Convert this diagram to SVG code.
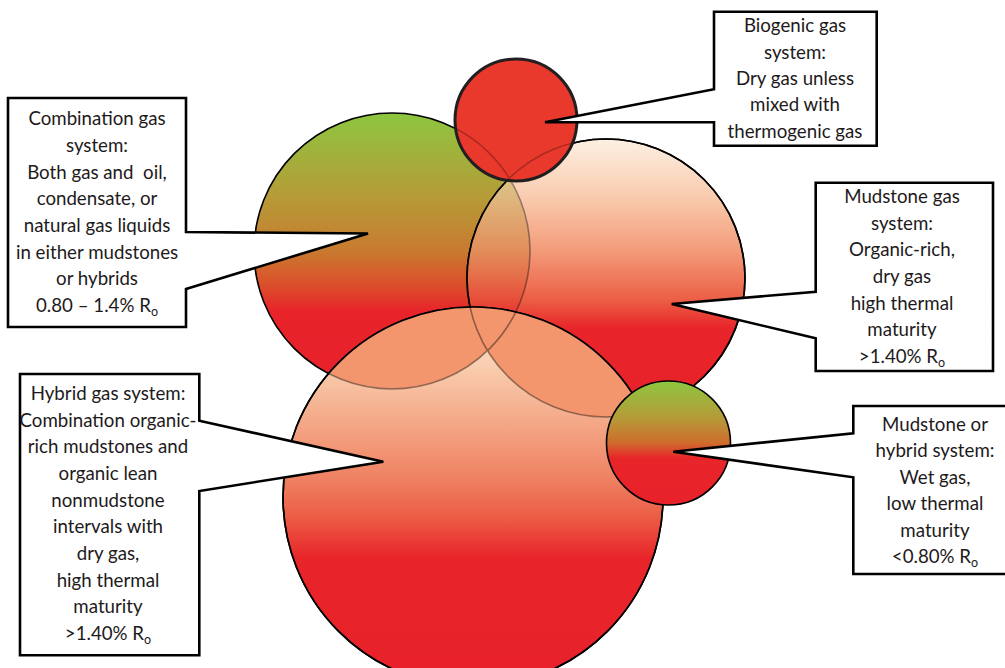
<svg xmlns="http://www.w3.org/2000/svg" xmlns:xlink="http://www.w3.org/1999/xlink" width="1005" height="668" viewBox="0 0 1005 668">
<style>
.lbl{font-family:Lato,"Open Sans","Liberation Sans",sans-serif;font-size:18.7px;fill:#1E1A1B;text-anchor:middle}
.sub{font-size:12.5px}
.box{fill:#fff;stroke:#000;stroke-width:2.6;stroke-linejoin:miter}
.ring{stroke:#000;stroke-width:1.6}
.ghost{fill:none;stroke:#000;stroke-width:1.6}
</style>
<defs>
<linearGradient id="gGreen" x1="0" y1="0" x2="0" y2="1">
<stop offset="0" stop-color="#8DC63F"/>
<stop offset="0.3" stop-color="#B59C38"/>
<stop offset="0.5" stop-color="#C97A2F"/>
<stop offset="0.63" stop-color="#DC4C2B"/>
<stop offset="0.72" stop-color="#E8232A"/>
<stop offset="1" stop-color="#E8212A"/>
</linearGradient>
<linearGradient id="gPeach" x1="0" y1="0" x2="0" y2="1">
<stop offset="0" stop-color="#FDF0E3"/>
<stop offset="0.2" stop-color="#F9CDB0"/>
<stop offset="0.4" stop-color="#F39C7A"/>
<stop offset="0.58" stop-color="#EC5E45"/>
<stop offset="0.68" stop-color="#E8252A"/>
<stop offset="1" stop-color="#E8212A"/>
</linearGradient>
<linearGradient id="gHybrid" x1="0" y1="0" x2="0" y2="1">
<stop offset="0" stop-color="#FCE6D2"/>
<stop offset="0.15" stop-color="#F9CFB1"/>
<stop offset="0.3" stop-color="#F4A988"/>
<stop offset="0.45" stop-color="#EF8263"/>
<stop offset="0.55" stop-color="#EC5E46"/>
<stop offset="0.66" stop-color="#E8252A"/>
<stop offset="1" stop-color="#E8212A"/>
</linearGradient>
<linearGradient id="gSmall" x1="0" y1="0" x2="0" y2="1">
<stop offset="0" stop-color="#8DC63F"/>
<stop offset="0.3" stop-color="#B69A38"/>
<stop offset="0.5" stop-color="#CF6C2D"/>
<stop offset="0.62" stop-color="#E8262A"/>
<stop offset="1" stop-color="#E8212A"/>
</linearGradient>
<circle id="c1" cx="392" cy="251" r="138"/>
<circle id="c2" cx="606" cy="278" r="139"/>
<circle id="c3" cx="473" cy="497" r="190"/>
<circle id="c4" cx="516" cy="120" r="61"/>
<circle id="c5" cx="668.5" cy="443" r="62"/>
<clipPath id="k2"><circle cx="606" cy="278" r="139"/></clipPath>
<clipPath id="k3"><circle cx="473" cy="497" r="190"/></clipPath>
<clipPath id="k4"><circle cx="516" cy="120" r="61"/></clipPath>
</defs>

<g id="circles">
<g id="circle-combination">
<use xlink:href="#c1" href="#c1" class="ring" fill="url(#gGreen)"/>
</g>
<g id="circle-mudstone">
<use xlink:href="#c2" href="#c2" class="ring" fill="url(#gPeach)"/>
<g clip-path="url(#k2)" opacity="0.4">
<use xlink:href="#c1" href="#c1" class="ring" fill="url(#gGreen)"/>
</g>
<use xlink:href="#c2" href="#c2" class="ghost"/>
</g>
<g id="circle-hybrid">
<use xlink:href="#c3" href="#c3" class="ring" fill="url(#gHybrid)"/>
<g clip-path="url(#k3)">
<use xlink:href="#c1" href="#c1" fill="#F3966F"/>
<use xlink:href="#c2" href="#c2" fill="#F3966F"/>
<g opacity="0.4">
<use xlink:href="#c1" href="#c1" class="ghost"/>
<use xlink:href="#c2" href="#c2" class="ghost"/>
</g>
</g>
<use xlink:href="#c3" href="#c3" class="ghost"/>
</g>
<g id="circle-biogenic">
<use xlink:href="#c4" href="#c4" fill="#E9382C" stroke="#231F20" stroke-width="3"/>
<g clip-path="url(#k4)" opacity="0.25">
<use xlink:href="#c1" href="#c1" class="ghost"/>
<use xlink:href="#c2" href="#c2" class="ghost"/>
</g>
</g>
<g id="circle-wet">
<use xlink:href="#c5" href="#c5" class="ring" fill="url(#gSmall)"/>
</g>
</g>

<g id="connectors"></g>

<g id="callout-combination">
<path class="box" d="M8,98 H186 V232 L368,233.5 L186,289 V327 H8 Z"/>
<text class="lbl" x="97" y="125.3">Combination gas</text>
<text class="lbl" x="97" y="152">system:</text>
<text class="lbl" x="97" y="178.7" xml:space="preserve">Both gas and  oil,</text>
<text class="lbl" x="97" y="205.3">condensate, or</text>
<text class="lbl" x="97" y="232">natural gas liquids</text>
<text class="lbl" x="97" y="258.7">in either mudstones</text>
<text class="lbl" x="97" y="285.3">or hybrids</text>
<text class="lbl" x="97" y="312">0.80 – 1.4% R<tspan class="sub" dy="4">o</tspan></text>
</g>

<g id="callout-biogenic">
<path class="box" d="M714,11.7 H876.7 V145.7 H714 V122.3 L545,122.3 L714,89.3 Z"/>
<text class="lbl" x="795" y="32.3">Biogenic gas</text>
<text class="lbl" x="795" y="58.7">system:</text>
<text class="lbl" x="795" y="85">Dry gas unless</text>
<text class="lbl" x="795" y="111.4">mixed with</text>
<text class="lbl" x="795" y="137.7">thermogenic gas</text>
</g>

<g id="callout-mudstone">
<path class="box" d="M815.7,182.7 H993 V371 H815.7 V338.3 L671.7,304 L815.7,291.7 Z"/>
<text class="lbl" x="902" y="203.3">Mudstone gas</text>
<text class="lbl" x="902" y="229.9">system:</text>
<text class="lbl" x="902" y="256.4">Organic-rich,</text>
<text class="lbl" x="902" y="283">dry gas</text>
<text class="lbl" x="902" y="309.6">high thermal</text>
<text class="lbl" x="902" y="336.2">maturity</text>
<text class="lbl" x="902" y="362.7">&gt;1.40% R<tspan class="sub" dy="4">o</tspan></text>
</g>

<g id="callout-hybrid">
<path class="box" d="M20,374 H199.3 V420.7 L383.3,461.7 L199.3,491 V655.3 H20 Z"/>
<text class="lbl" x="108" y="400">Hybrid gas system:</text>
<text class="lbl" x="108" y="426.7">Combination organic-</text>
<text class="lbl" x="108" y="453.3">rich mudstones and</text>
<text class="lbl" x="108" y="480">organic lean</text>
<text class="lbl" x="108" y="506.7">nonmudstone</text>
<text class="lbl" x="108" y="533.3">intervals with</text>
<text class="lbl" x="108" y="560">dry gas,</text>
<text class="lbl" x="108" y="586.7">high thermal</text>
<text class="lbl" x="108" y="613.3">maturity</text>
<text class="lbl" x="108" y="640">&gt;1.40% R<tspan class="sub" dy="4">o</tspan></text>
</g>

<g id="callout-wet">
<path class="box" d="M853.3,406 H1010 V574 H853.3 V477.3 L673.3,451.7 L853.3,433.3 Z"/>
<text class="lbl" x="935" y="430.7">Mudstone or</text>
<text class="lbl" x="935" y="457.3">hybrid system:</text>
<text class="lbl" x="935" y="483.8">Wet gas,</text>
<text class="lbl" x="935" y="510.3">low thermal</text>
<text class="lbl" x="935" y="536.8">maturity</text>
<text class="lbl" x="935" y="563.3">&lt;0.80% R<tspan class="sub" dy="4">o</tspan></text>
</g>
</svg>
